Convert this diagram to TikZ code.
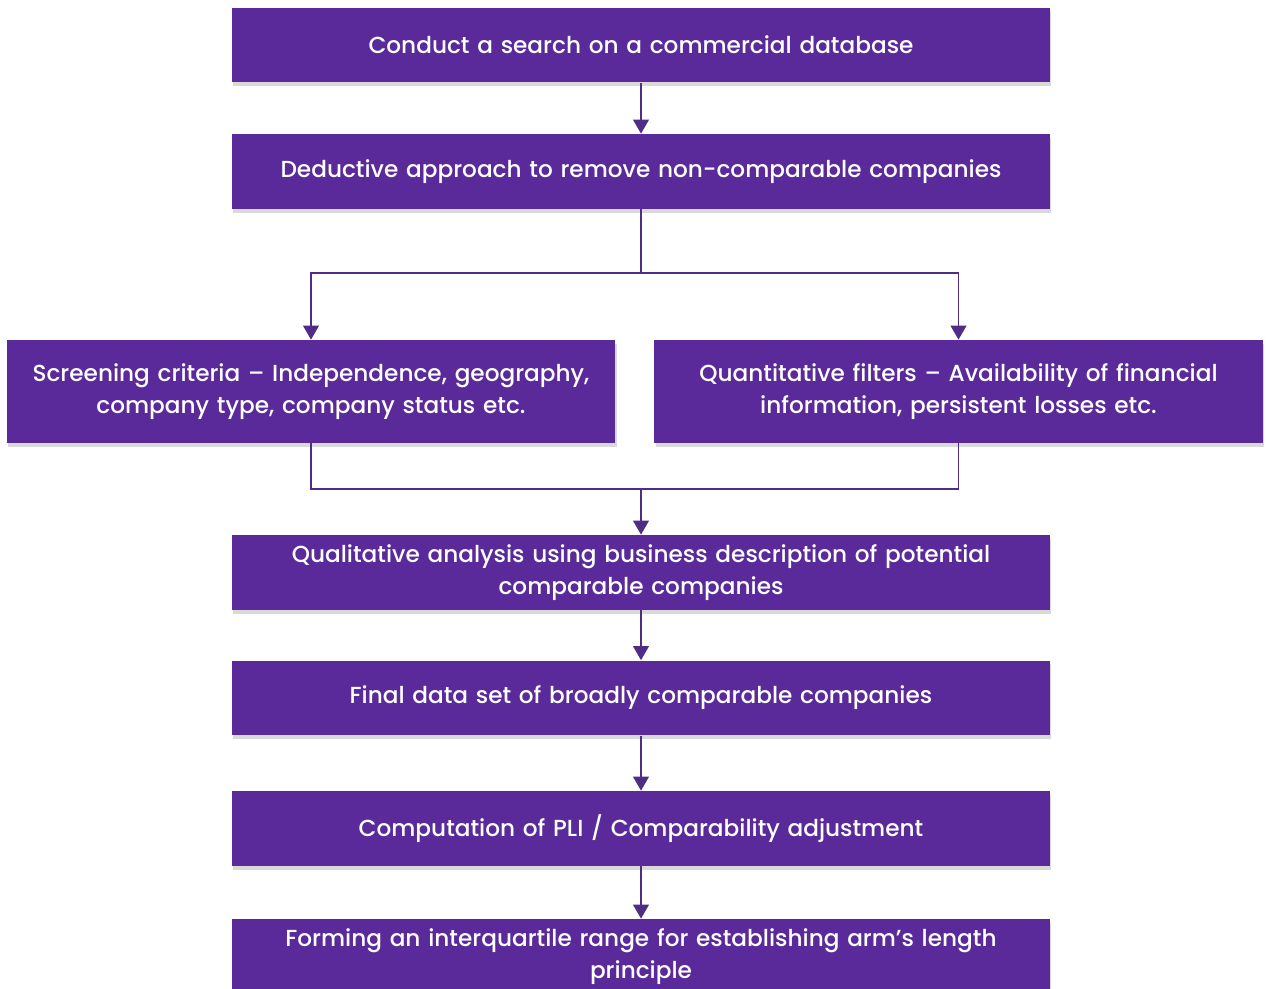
\documentclass[tikz,border=0pt]{standalone}
\usepackage{fontspec}
\setmainfont{Poppins}[UprightFont=* Medium]
\usetikzlibrary{positioning,shadows,arrows.meta}
\definecolor{violet}{HTML}{5A2A9A}
\definecolor{trait}{HTML}{4E2D88}

\begin{document}
\begin{tikzpicture}[x=0.02cm,y=-0.02cm,
    etape/.style={fill=violet, text=white, minimum height=1.5cm, align=center,
      font=\fontsize{13.2}{18}\selectfont, inner sep=0pt,
      drop shadow={opacity=0.3, shadow xshift=0.8pt, shadow yshift=-2pt}},
    large/.style={etape, minimum width=16.36cm, text width=15.5cm},
    demi/.style={etape, minimum width=12.17cm, minimum height=2.06cm, text width=11.9cm},
    fleche/.style={trait, line width=0.9pt, -{Triangle[length=8pt,width=9pt]}},
    lien/.style={trait, line width=0.9pt}]
    \useasboundingbox (0,0) rectangle (1267,989);
    % les étapes
    \node[large] (search) at (641,45) {Conduct a search on a commercial database};
    \node[large] (deduct) at (641,171.5) {Deductive approach to remove non-comparable companies};
    \node[demi] (screen) at (311,391.5) {Screening criteria -- Independence, geography,\\company type, company status etc.};
    \node[demi] (quanti) at (958.5,391.5) {Quantitative filters -- Availability of financial\\information, persistent losses etc.};
    \node[large] (quali) at (641,572.5) {Qualitative analysis using business description of potential\\comparable companies};
    \node[large] (final) at (641,698) {Final data set of broadly comparable companies};
    \node[large] (pli) at (641,828.5) {Computation of PLI / Comparability adjustment};
    \node[large] (iqr) at (641,956.5) {Forming an interquartile range for establishing arm’s length\\principle};
    % points de jonction
    \coordinate (haut) at (641,273);
    \coordinate (bas) at (641,489);
    % les liaisons
    \draw[fleche] (search) -- (deduct);
    \draw[lien] (deduct) -- (haut);
    \draw[fleche] (haut) -| (screen);
    \draw[fleche] (haut) -| (quanti);
    \draw[lien] (screen.south) |- (bas) -| (quanti.south);
    \draw[fleche] (bas) -- (quali);
    \draw[fleche] (quali) -- (final);
    \draw[fleche] (final) -- (pli);
    \draw[fleche] (pli) -- (iqr);
\end{tikzpicture}
\end{document}
